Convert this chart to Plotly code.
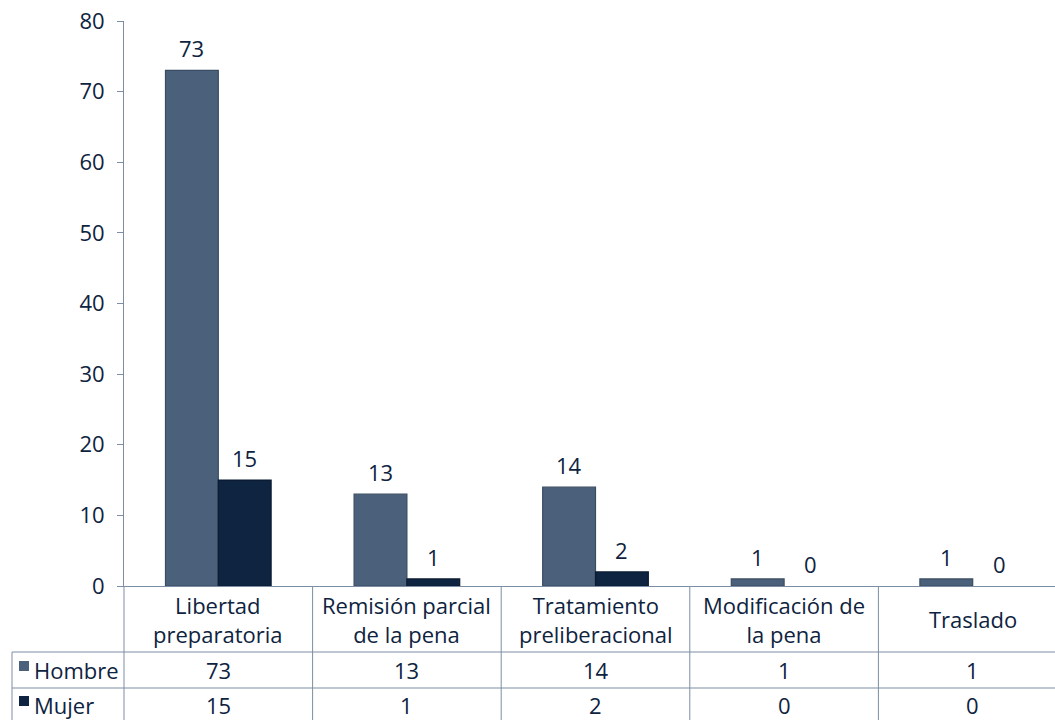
import plotly.graph_objects as go

# Data
categorias = [
    "Libertad<br>preparatoria",
    "Remisión parcial<br>de la pena",
    "Tratamiento<br>preliberacional",
    "Modificación de<br>la pena",
    "Traslado",
]
hombre = [73, 13, 14, 1, 1]
mujer = [15, 1, 2, 0, 0]
series_names = ["Hombre", "Mujer"]
y_ticks = [0, 10, 20, 30, 40, 50, 60, 70, 80]

# Styling
W, H = 1055, 720
M_L, M_R, M_T, M_B = 124, 0, 21, 134
FONT = "Open Sans, Noto Sans, sans-serif"
TXT = "#0e2340"
GRID = "#7c8ea3"
C_H = "#4b617b"
C_H_EDGE = "#3a4c62"
C_M = "#0e2441"
C_M_EDGE = "#0a1a30"
FS = 22

n = len(categorias)
x_idx = list(range(n))
cat_px = 188.6                      # one category column width in pixels
plot_w = W - M_L - M_R
plot_h = H - M_T - M_B
x_end = -0.5 + plot_w / cat_px      # last column runs past the right edge
bargap = 0.44


def px_to_paper_y(py):
    return (H - M_B - py) / plot_h


def data_to_paper_x(xv):
    return (xv + 0.5) * cat_px / plot_w


def px_to_paper_x(px):
    return (px - M_L) / plot_w


def edge_widths(vals):
    # no outline on empty bars
    return [1.2 if v > 0 else 0 for v in vals]


fig = go.Figure()
fig.add_trace(go.Bar(
    x=x_idx, y=hombre, name=series_names[0],
    marker=dict(color=C_H, line=dict(color=C_H_EDGE, width=edge_widths(hombre))),
    showlegend=False,
))
fig.add_trace(go.Bar(
    x=x_idx, y=mujer, name=series_names[1],
    marker=dict(color=C_M, line=dict(color=C_M_EDGE, width=edge_widths(mujer))),
    showlegend=False,
))

annotations = []
shapes = []
half = (1 - bargap) / 4  # offset of each bar centre from category centre

# value labels above the bars
for i in x_idx:
    for vals, off in ((hombre, -half), (mujer, half)):
        annotations.append(dict(
            x=i + off, y=vals[i], xref="x", yref="y",
            text=str(vals[i]), showarrow=False,
            yanchor="bottom", yshift=5,
            font=dict(family=FONT, size=FS, color=TXT),
        ))

# data table below the axis
row_lines_px = [586, 652, 688, 720]
y_cat_mid = px_to_paper_y((row_lines_px[0] + row_lines_px[1]) / 2)
y_h_mid = px_to_paper_y((row_lines_px[1] + row_lines_px[2]) / 2)
y_m_mid = px_to_paper_y((row_lines_px[2] + row_lines_px[3]) / 2 + 1)
left_px = 12

for i in x_idx:
    annotations.append(dict(
        x=data_to_paper_x(i), y=y_cat_mid, xref="paper", yref="paper",
        text=categorias[i], showarrow=False, xanchor="center", yanchor="middle",
        font=dict(family=FONT, size=FS, color=TXT), align="center",
    ))
    annotations.append(dict(
        x=data_to_paper_x(i), y=y_h_mid, xref="paper", yref="paper",
        text=str(hombre[i]), showarrow=False, xanchor="center", yanchor="middle",
        font=dict(family=FONT, size=FS, color=TXT),
    ))
    annotations.append(dict(
        x=data_to_paper_x(i), y=y_m_mid, xref="paper", yref="paper",
        text=str(mujer[i]), showarrow=False, xanchor="center", yanchor="middle",
        font=dict(family=FONT, size=FS, color=TXT),
    ))

# row headers with colour keys
for name, col, ym in ((series_names[0], C_H, y_h_mid), (series_names[1], C_M, y_m_mid)):
    annotations.append(dict(
        x=px_to_paper_x(32), y=ym, xref="paper", yref="paper",
        text=name, showarrow=False, xanchor="left", yanchor="middle",
        font=dict(family=FONT, size=FS, color=TXT),
    ))
    ypx = H - M_B - ym * plot_h
    shapes.append(dict(
        type="rect", xref="paper", yref="paper",
        x0=px_to_paper_x(19), x1=px_to_paper_x(29),
        y0=px_to_paper_y(ypx + 1), y1=px_to_paper_y(ypx - 9),
        fillcolor=col, line=dict(width=0),
    ))

line_style = dict(color=GRID, width=1)
# horizontal table rules
for py in row_lines_px[1:3]:
    shapes.append(dict(
        type="line", xref="paper", yref="paper",
        x0=px_to_paper_x(left_px), x1=1, y0=px_to_paper_y(py), y1=px_to_paper_y(py),
        line=line_style,
    ))
# vertical table rules
for b in [i - 0.5 for i in range(n + 1)]:
    xp = data_to_paper_x(b)
    if xp > 1:
        continue
    shapes.append(dict(
        type="line", xref="paper", yref="paper",
        x0=xp, x1=xp, y0=0, y1=px_to_paper_y(H + 5),
        line=line_style,
    ))
shapes.append(dict(
    type="line", xref="paper", yref="paper",
    x0=px_to_paper_x(left_px), x1=px_to_paper_x(left_px),
    y0=px_to_paper_y(row_lines_px[1]), y1=px_to_paper_y(H + 5),
    line=line_style,
))

fig.update_layout(
    width=W, height=H,
    margin=dict(l=M_L, r=M_R, t=M_T, b=M_B, autoexpand=False),
    paper_bgcolor="white", plot_bgcolor="white",
    barmode="group", bargap=bargap, bargroupgap=0,
    font=dict(family=FONT, size=FS, color=TXT),
    xaxis=dict(
        range=[-0.5, x_end], showticklabels=False, ticks="",
        showgrid=False, zeroline=False,
        showline=True, linecolor=GRID, linewidth=1,
    ),
    yaxis=dict(
        range=[0, 80], tickvals=y_ticks, ticktext=[str(v) for v in y_ticks],
        ticks="outside", ticklen=6, tickcolor=GRID, tickwidth=1,
        showgrid=False, zeroline=False,
        showline=True, linecolor=GRID, linewidth=1,
        tickfont=dict(family=FONT, size=FS, color=TXT),
        ticklabelstandoff=8,
    ),
    annotations=annotations,
    shapes=shapes,
)

fig.write_html("out.html")
